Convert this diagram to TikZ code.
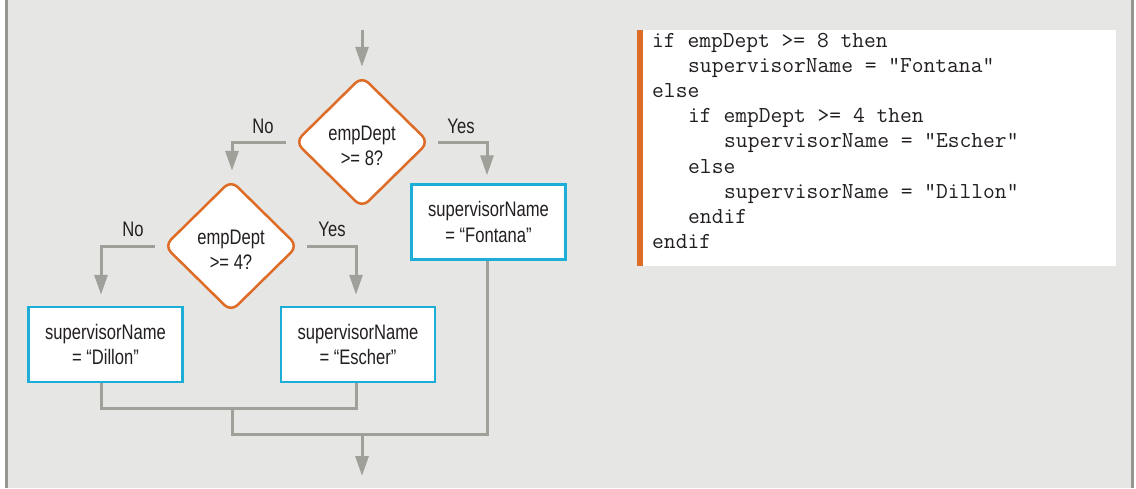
\documentclass[tikz,border=0pt]{standalone}
\usepackage{fontspec}
\usetikzlibrary{shapes.geometric,arrows.meta}
\newfontfamily\flowfont[FakeStretch=0.79]{Liberation Sans}
\definecolor{bgc}{RGB}{230,230,228}
\definecolor{framec}{RGB}{150,150,145}
\definecolor{linec}{RGB}{160,160,154}
\definecolor{orangec}{RGB}{222,107,38}
\definecolor{cyanc}{RGB}{28,174,214}
\definecolor{txtc}{RGB}{35,31,32}
\tikzset{
  flowtxt/.style={font=\flowfont\fontsize{21}{25.5}\selectfont, text=txtc},
  dia/.style={diamond, draw=orangec, fill=white, line width=2.5pt, rounded corners=9pt,
    minimum width=134pt, minimum height=132pt, inner sep=0pt, align=center, flowtxt},
  procbox/.style={rectangle, draw=cyanc, fill=white, line width=2.5pt,
    minimum width=154pt, minimum height=75pt, inner sep=0pt, align=center, flowtxt},
  conn/.style={draw=linec, line width=3pt},
  arr/.style={conn, -{Triangle[length=20pt,width=13pt]}},
  lbl/.style={flowtxt, inner sep=0pt},
  codeline/.style={font=\ttfamily\fontsize{22.86}{25}\selectfont, text=txtc, anchor=base west, inner sep=0pt}
}
\begin{document}
\begin{tikzpicture}[x=1pt,y=-1pt]
\useasboundingbox (0,0) rectangle (1136,488);
% background and frame
\fill[white] (0,0) rectangle (1136,488);
\fill[bgc] (6,0) rectangle (1133,488);
\draw[framec, line width=3pt] (6.5,0) -- (6.5,488);
\draw[framec, line width=3pt] (1132.5,0) -- (1132.5,488);

% code panel
\fill[white] (642,30) rectangle (1116,266);
\fill[orangec] (637,30) rectangle (643,266);
\foreach \i/\ind/\t in {1/0/{if empDept >= 8 then},
                        2/3/{supervisorName = "Fontana"},
                        3/0/{else},
                        4/3/{if empDept >= 4 then},
                        5/6/{supervisorName = "Escher"},
                        6/3/{else},
                        7/6/{supervisorName = "Dillon"},
                        8/3/{endif},
                        9/0/{endif}}{
  \node[codeline] (c\i) at ({652+\ind*12},{47+(\i-1)*25.2}) {\t};
}

% flowchart nodes
\coordinate (start) at (362,30);
\node[dia] (d1) at (362,142) {};
\node[flowtxt, align=center, inner sep=0pt] (d1t) at (362,146) {empDept\\>= 8?};
\node[dia] (d2) at (231,246) {};
\node[flowtxt, align=center, inner sep=0pt] (d2t) at (231,250) {empDept\\>= 4?};
\node[procbox] (fon) at (488.5,222) {supervisorName\\= “Fontana”};
\node[procbox] (dil) at (105.5,344.5) {supervisorName\\= “Dillon”};
\node[procbox] (esc) at (358,344.5) {supervisorName\\= “Escher”};
\coordinate (m1) at (232,408);
\coordinate (m2) at (362,434);
\coordinate (finish) at (362,476);

% labels
\node[lbl] (no1) at (263,126) {No};
\node[lbl] (yes1) at (461,126) {Yes};
\node[lbl] (no2) at (133,229) {No};
\node[lbl] (yes2) at (332,229) {Yes};

% connectors
\draw[arr, shorten >=8pt] (start) -- (d1.north);
\draw[arr, shorten <=8pt, shorten >=8pt] (d1.west) -| (d2.north -| 232,0);
\draw[arr, shorten <=8pt, shorten >=8pt] (d1.east) -| (fon.north -| 487,0);
\draw[arr, shorten <=8pt, shorten >=11pt] (d2.west) -| (dil.north -| 101,0);
\draw[arr, shorten <=8pt, shorten >=11pt] (d2.east) -| (esc.north -| 356,0);
\draw[conn] (dil.south -| 101,0) -- (101,408) -- (356,408) -- (esc.south -| 356,0);
\draw[conn] (m1) -- (232,434) -- (487,434) -- (fon.south -| 487,0);
\draw[arr] (m2) -- (finish);
\end{tikzpicture}
\end{document}
